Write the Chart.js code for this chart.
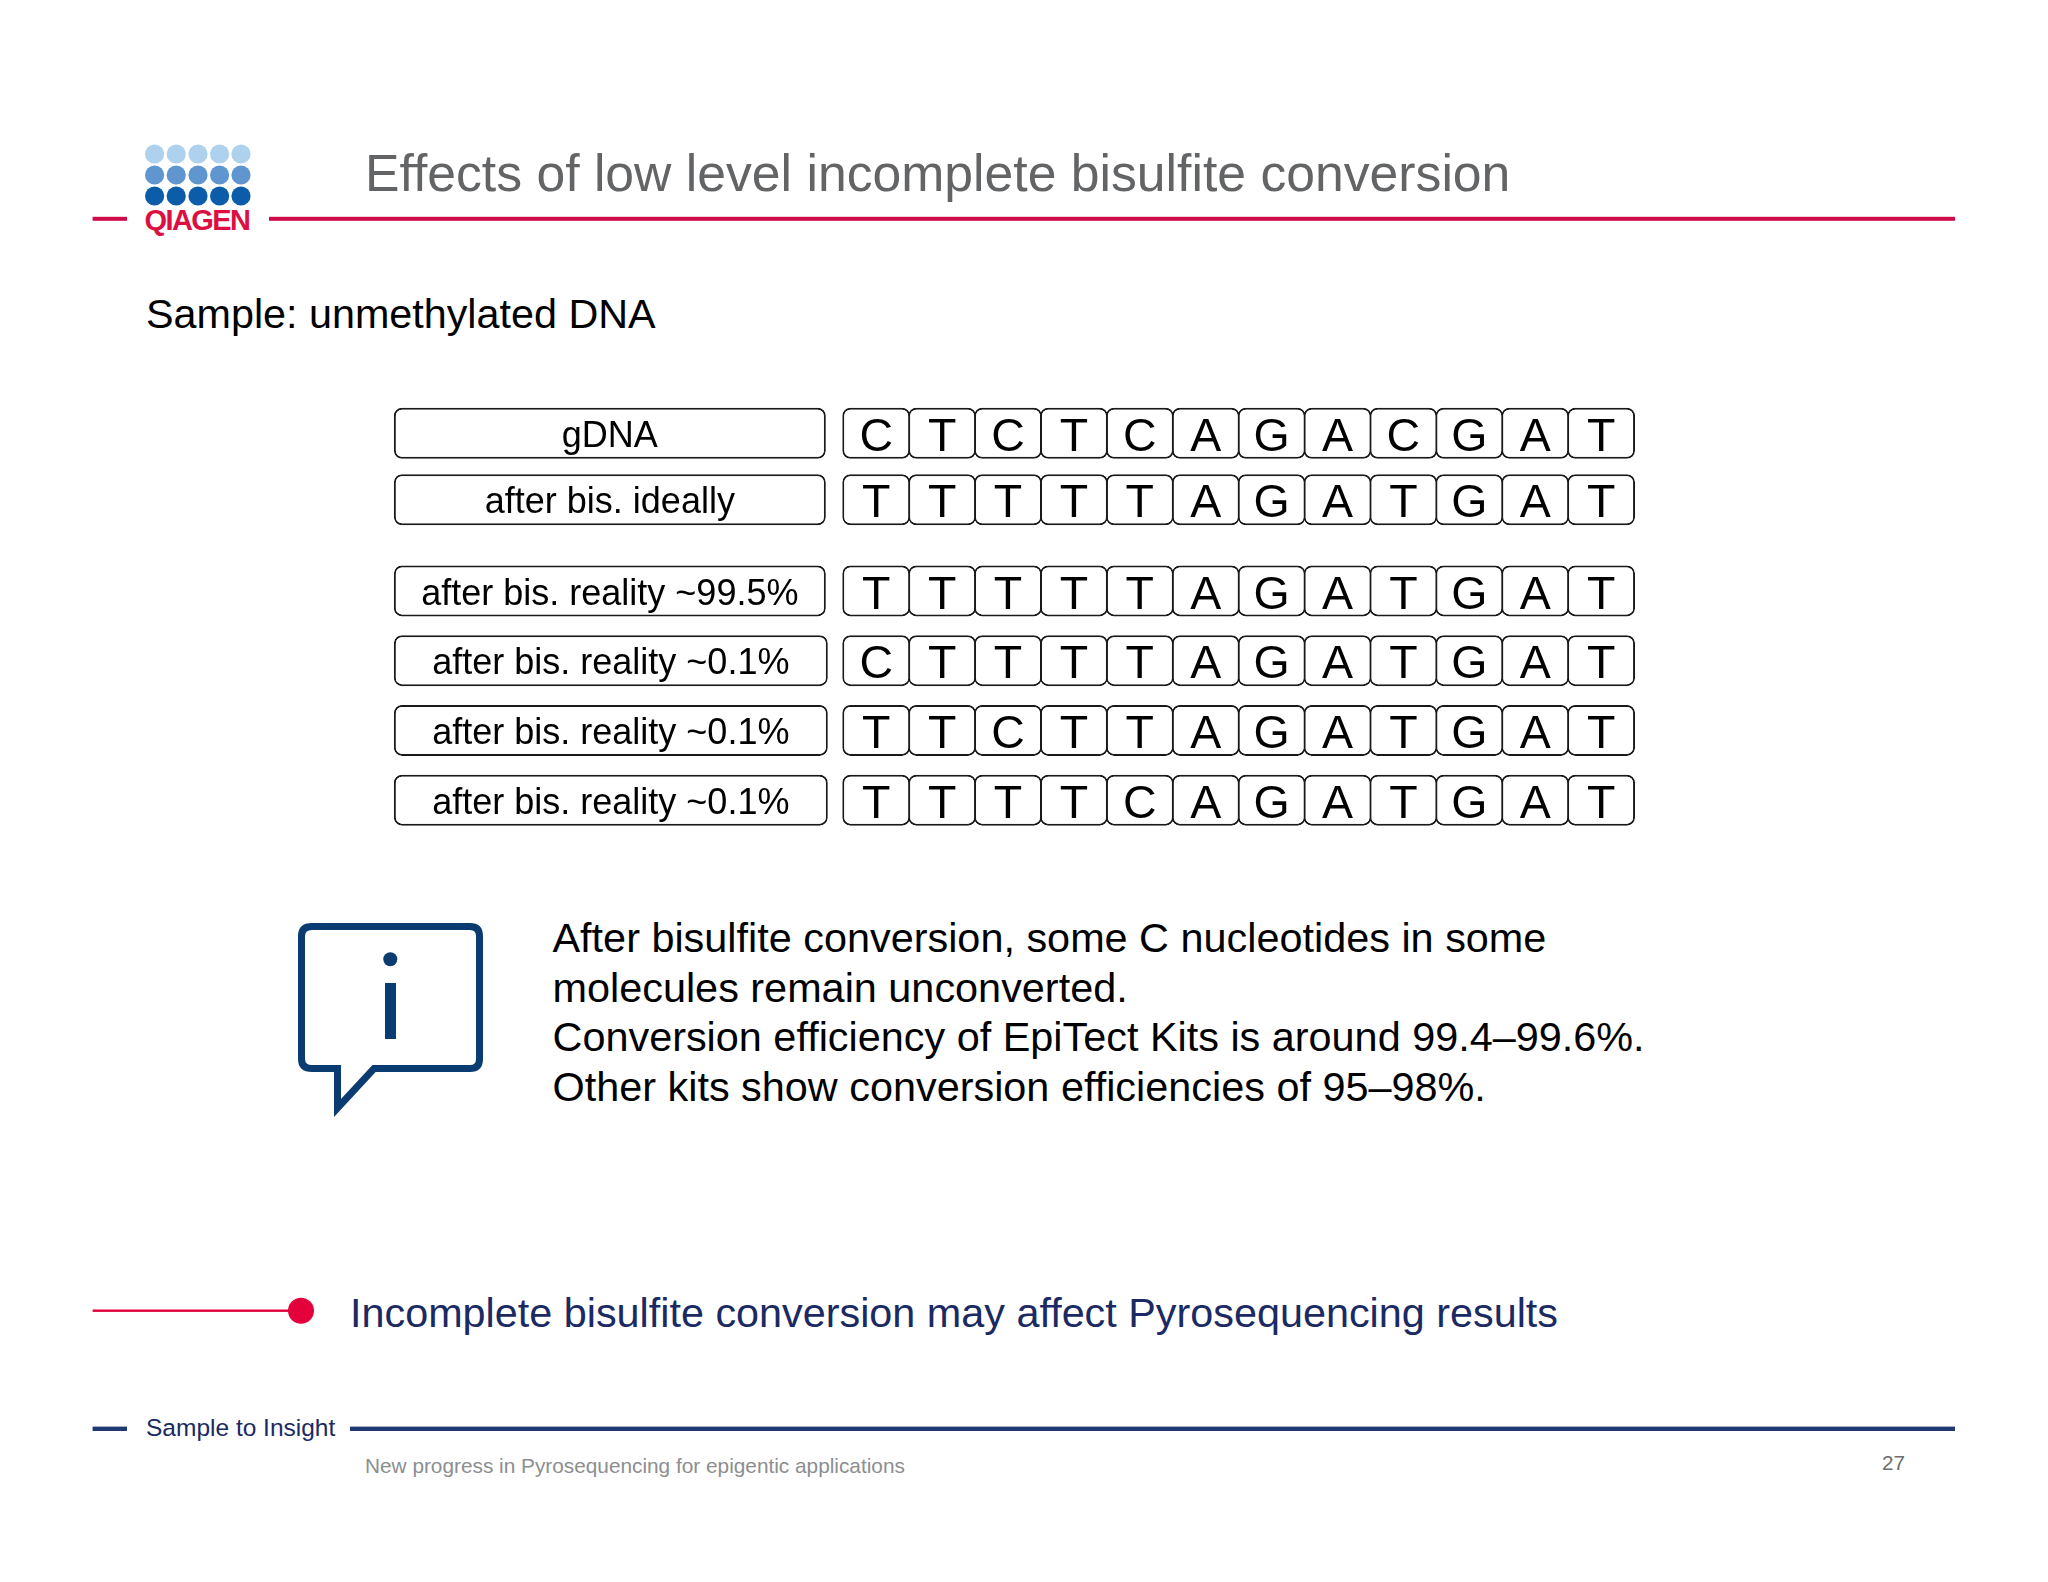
<!DOCTYPE html>
<html>
<head>
<meta charset="utf-8">
<title>Effects of low level incomplete bisulfite conversion</title>
<script src="https://cdn.jsdelivr.net/npm/chart.js@4"></script>
<style>
    html, body { margin:0; padding:0; background:#fff; }
    #page { position:relative; width:2048px; height:1582px; overflow:hidden; }
    #frame { position:absolute; left:0; top:0; }
    #frame text { font-family:"Liberation Sans", Arial, sans-serif; }
    canvas { position:absolute; left:382px; }
    #rows-ideal { top:400px; }
    #rows-real { top:556px; }
</style>
</head>
<body>
<div id="page">
<svg id="frame" width="2048" height="1582" viewBox="0 0 2048 1582">
    <!-- logo -->
    <g fill="#aed1ee">
        <circle cx="154.6" cy="154" r="9.6"/><circle cx="176.2" cy="154" r="9.6"/><circle cx="198" cy="154" r="9.6"/><circle cx="219.6" cy="154" r="9.6"/><circle cx="241" cy="154" r="9.6"/>
    </g>
    <g fill="#5f96d0">
        <circle cx="154.6" cy="175" r="9.6"/><circle cx="176.2" cy="175" r="9.6"/><circle cx="198" cy="175" r="9.6"/><circle cx="219.6" cy="175" r="9.6"/><circle cx="241" cy="175" r="9.6"/>
    </g>
    <g fill="#0b5ca9">
        <circle cx="154.6" cy="196" r="9.6"/><circle cx="176.2" cy="196" r="9.6"/><circle cx="198" cy="196" r="9.6"/><circle cx="219.6" cy="196" r="9.6"/><circle cx="241" cy="196" r="9.6"/>
    </g>
    <text x="144.5" y="230" font-size="29" font-weight="bold" letter-spacing="-1.6" fill="#dc0f42">QIAGEN</text>

    <!-- titre -->
    <rect x="92.6" y="216.8" width="34.4" height="4" fill="#cf0a48"/>
    <rect x="269" y="216.8" width="1686" height="4" fill="#cf0a48"/>
    <text x="365" y="190.7" font-size="51.7" fill="#636466">Effects of low level incomplete bisulfite conversion</text>
    <text x="146" y="327.5" font-size="41.3" fill="#000">Sample: unmethylated DNA</text>

    <!-- icone info -->
    <path d="M312 926.5 H470 Q479.5 926.5 479.5 936 V1059 Q479.5 1068.5 470 1068.5 H374 L337.5 1108 V1068.5 H312 Q301.5 1068.5 301.5 1059 V936 Q301.5 926.5 312 926.5 Z" fill="none" stroke="#0b3c71" stroke-width="7"/>
    <circle cx="390.3" cy="959.3" r="7" fill="#0b3c71"/>
    <rect x="385" y="983" width="11" height="56" fill="#0b3c71"/>

    <!-- texte -->
    <g font-size="41.4" fill="#000">
        <text x="552.5" y="952">After bisulfite conversion, some C nucleotides in some</text>
        <text x="552.5" y="1001.7">molecules remain unconverted.</text>
        <text x="552.5" y="1051.4">Conversion efficiency of EpiTect Kits is around 99.4–99.6%.</text>
        <text x="552.5" y="1101">Other kits show conversion efficiencies of 95–98%.</text>
    </g>

    <!-- conclusion -->
    <rect x="92.6" y="1309.5" width="200" height="2.4" fill="#e4003a"/>
    <circle cx="301" cy="1310.7" r="13" fill="#e4003a"/>
    <text x="350" y="1326.7" font-size="41.35" fill="#1b2a63">Incomplete bisulfite conversion may affect Pyrosequencing results</text>

    <!-- pied de page -->
    <rect x="92.6" y="1426.6" width="34.4" height="4.4" fill="#1f3a73"/>
    <rect x="350" y="1426.6" width="1605" height="4.4" fill="#1f3a73"/>
    <text x="146" y="1435.7" font-size="24.5" fill="#1b2a63">Sample to Insight</text>
    <text x="365" y="1473" font-size="20.8" fill="#8c8e90">New progress in Pyrosequencing for epigentic applications</text>
    <text x="1882" y="1470" font-size="20.7" fill="#6d6e70">27</text>
</svg>
<canvas id="rows-ideal" width="1285" height="133"></canvas>
<canvas id="rows-real" width="1285" height="279"></canvas>
</div>

<script>
// les donnees
const idealLabels = ['gDNA', 'after bis. ideally']
const idealBases = ['CTCTCAGACGAT', 'TTTTTAGATGAT']
const realLabels = ['after bis. reality ~99.5%', 'after bis. reality ~0.1%', 'after bis. reality ~0.1%', 'after bis. reality ~0.1%']
const realBases = ['TTTTTAGATGAT', 'CTTTTAGATGAT', 'TTCTTAGATGAT', 'TTTTCAGATGAT']

const FONT = '"Liberation Sans", Arial, sans-serif'
const INK = '#1a1a1a'

// ecrit le texte au milieu de chaque case
const cellText = {
    id: 'cellText',
    afterDatasetsDraw(chart) {
        const ctx = chart.ctx
        ctx.save()
        ctx.textAlign = 'center'
        ctx.textBaseline = 'alphabetic'
        ctx.fillStyle = '#000'
        chart.data.datasets.forEach((dataset, d) => {
            ctx.font = dataset.textSize + 'px ' + FONT
            chart.getDatasetMeta(d).data.forEach((bar, i) => {
                const center = bar.getCenterPoint()
                ctx.fillText(dataset.texts[i], center.x, center.y + dataset.textSize * 0.38)
            })
        })
        ctx.restore()
    }
}

function drawRows(id, labels, bases, labelEnds) {
    // la boite du nom de la ligne
    const datasets = [{
        data: labels.map((l, i) => [-6.82, labelEnds[i]]),
        texts: labels,
        textSize: 36,
        backgroundColor: '#fff',
        borderColor: INK
    }]
    // une serie par colonne de la sequence
    for (let col = 0; col < bases[0].length; col++) {
        datasets.push({
            data: bases.map(() => [col - 0.015, col + 1.015]),
            texts: bases.map(seq => seq[col]),
            textSize: 46.5,
            backgroundColor: '#fff',
            borderColor: INK
        })
    }
    return new Chart(document.getElementById(id), {
        type: 'bar',
        data: { labels: labels, datasets: datasets },
        plugins: [cellText],
        options: {
            indexAxis: 'y',
            responsive: false,
            animation: false,
            devicePixelRatio: 1,
            layout: { padding: 0 },
            datasets: {
                bar: {
                    grouped: false,
                    barThickness: 51,
                    borderWidth: 2,
                    borderRadius: 8,
                    borderSkipped: false,
                    inflateAmount: 0
                }
            },
            plugins: { legend: { display: false }, tooltip: { enabled: false } },
            scales: {
                x: { type: 'linear', min: -7, max: 12.5, display: false },
                y: { display: false }
            }
        }
    })
}

drawRows('rows-ideal', idealLabels, idealBases, [-0.265, -0.265])
drawRows('rows-real', realLabels, realBases, [-0.265, -0.235, -0.235, -0.235])
</script>
</body>
</html>
